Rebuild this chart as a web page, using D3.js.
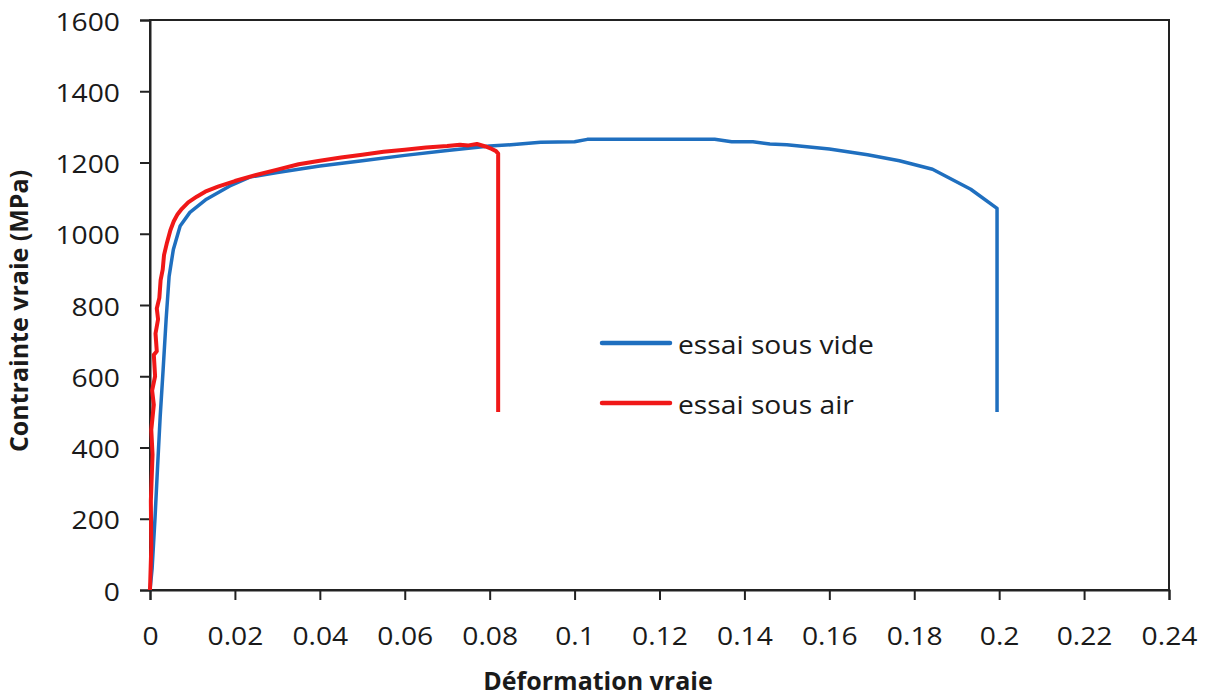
<!DOCTYPE html>
<html><head><meta charset="utf-8">
<script src="https://cdn.jsdelivr.net/npm/d3@7"></script>
<style>
html,body{margin:0;padding:0;background:#fff;}
svg text{font-family:"Open Sans",sans-serif;fill:#1a1a1a;}
</style></head>
<body><svg id="c" width="1208" height="698"></svg>
<script>
const xTicks = [0,0.02,0.04,0.06,0.08,0.1,0.12,0.14,0.16,0.18,0.2,0.22,0.24];
const yTicks = [0,200,400,600,800,1000,1200,1400,1600];
const seriesNames = ["essai sous vide","essai sous air"];
const vacuumX = [0,0.0005,0.0012,0.0018,0.0024,0.0031,0.0038,0.0045,0.0055,0.0071,0.0094,0.0133,0.0188,0.0235,0.03,0.04,0.05,0.06,0.07,0.08,0.085,0.092,0.1,0.103,0.133,0.137,0.142,0.146,0.15,0.16,0.169,0.1765,0.1843,0.1933,0.1995,0.1995];
const vacuumY = [0,60,206,350,487,620,760,880,956,1022,1060,1097,1134,1159,1172,1190,1205,1220,1234,1246,1250,1257,1258,1265,1265,1258,1258,1252,1250,1238,1222,1205,1181,1125,1071,500];
const airX = [0,0.0003,0.0002,0.0006,0.0003,0.0009,0.0005,0.0012,0.0009,0.0016,0.0013,0.0019,0.0016,0.0022,0.0025,0.0030,0.0033,0.0040,0.0048,0.0056,0.0065,0.0075,0.009,0.011,0.013,0.016,0.02,0.025,0.03,0.035,0.04,0.045,0.05,0.055,0.06,0.065,0.07,0.073,0.075,0.077,0.079,0.0805,0.0815,0.082,0.082];
const airY = [0,120,250,380,450,520,560,600,660,670,720,760,790,820,870,900,940,975,1010,1035,1055,1070,1088,1104,1118,1132,1148,1165,1180,1195,1205,1214,1222,1230,1236,1242,1246,1250,1248,1252,1245,1238,1232,1225,500];
const colors = ["#1f6fbf","#f01818"];
const SX = 1.13;

const svg = d3.select("#c");
const x = d3.scaleLinear().domain([0,0.24]).range([150,1169]);
const y = d3.scaleLinear().domain([0,1600]).range([590,20]);

svg.append("rect").attr("x",150).attr("y",20).attr("width",1019).attr("height",570)
  .attr("fill","none").attr("stroke","#222").attr("stroke-width",2);

const xa = svg.append("g").attr("transform","translate(0,590)")
  .call(d3.axisBottom(x).tickValues(xTicks).tickSize(10).tickPadding(27).tickFormat(d=>String(+d.toFixed(2))));
const ya = svg.append("g").attr("transform","translate(150,0)")
  .call(d3.axisLeft(y).tickValues(yTicks).tickSize(10).tickPadding(20).tickFormat(d=>String(d)));
[xa,ya].forEach(a=>{
  a.select(".domain").attr("stroke","#222").attr("stroke-width",2);
  a.selectAll(".tick line").attr("stroke","#222").attr("stroke-width",2);
  a.selectAll(".tick text").style("font-size","25px").attr("fill","#1a1a1a").attr("transform",`scale(${SX},1)`);
});
ya.selectAll(".tick text").attr("x",-30/SX).attr("dy","0.40em");

const line = d3.line().x(d=>x(d[0])).y(d=>y(d[1]));
const vac = vacuumX.map((v,i)=>[v,vacuumY[i]]);
const air = airX.map((v,i)=>[v,airY[i]]);
svg.append("path").datum(vac).attr("d",line).attr("fill","none").attr("stroke",colors[0]).attr("stroke-width",3.5).attr("stroke-linejoin","round");
svg.append("path").datum(air).attr("d",line).attr("fill","none").attr("stroke",colors[1]).attr("stroke-width",4).attr("stroke-linejoin","round");

const leg = svg.append("g");
seriesNames.forEach((n,i)=>{
  const yy = 343 + i*60;
  leg.append("line").attr("x1",602).attr("x2",670).attr("y1",yy).attr("y2",yy).attr("stroke",colors[i]).attr("stroke-width",4.5).attr("stroke-linecap","round");
  leg.append("text").attr("transform",`translate(678,${yy+11}) scale(${SX},1)`).style("font-size","25px").text(n);
});

svg.append("text").attr("x",598).attr("y",690).attr("text-anchor","middle").style("font-size","25px").style("font-weight","bold").text("Déformation vraie");
svg.append("text").attr("transform","translate(28,311) rotate(-90)").attr("text-anchor","middle").style("font-size","25px").style("font-weight","bold").text("Contrainte vraie  (MPa)");
</script></body></html>
